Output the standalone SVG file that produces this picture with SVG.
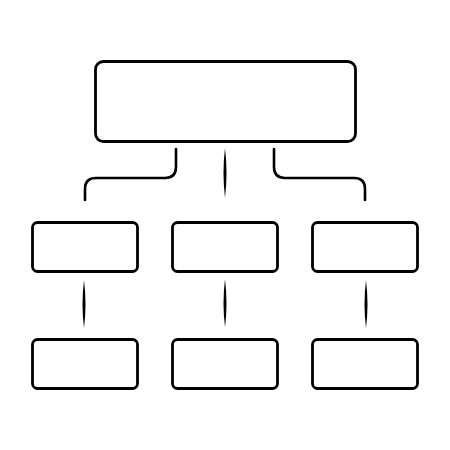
<svg xmlns="http://www.w3.org/2000/svg" width="450" height="450" viewBox="0 0 450 450">
<style>
.box{fill:#fff;stroke:#000;stroke-width:2.8}
.elbow{fill:none;stroke:#000;stroke-width:2.6;stroke-linecap:round}
.taper{fill:#000}
</style>
<rect width="450" height="450" fill="#fff"/>
<g id="connectors">
<path class="elbow" d="M176,149 V167 Q176,178 165,178 H96 Q85,178 85,189 V200"/>
<path class="taper" d="M225,148 Q228,172 225,198 Q222,172 225,148 Z"/>
<path class="elbow" d="M274,149 V167 Q274,178 285,178 H354 Q365,178 365,189 V200"/>
<path class="taper" d="M84,280 Q87,304 84,328 Q81,304 84,280 Z"/>
<path class="taper" d="M225,279 Q228,303 225,327 Q222,303 225,279 Z"/>
<path class="taper" d="M366,280 Q369,304 366,328 Q363,304 366,280 Z"/>
</g>
<g id="root"><rect class="box" x="95.5" y="61.5" width="260" height="80" rx="8"/></g>
<g id="mid1"><rect class="box" x="32.5" y="222.5" width="105" height="49" rx="5"/></g>
<g id="mid2"><rect class="box" x="172.5" y="222.5" width="105" height="49" rx="5"/></g>
<g id="mid3"><rect class="box" x="312.5" y="222.5" width="105" height="49" rx="5"/></g>
<g id="bot1"><rect class="box" x="32.5" y="339.5" width="105" height="49" rx="5"/></g>
<g id="bot2"><rect class="box" x="172.5" y="339.5" width="105" height="49" rx="5"/></g>
<g id="bot3"><rect class="box" x="312.5" y="339.5" width="105" height="49" rx="5"/></g>
</svg>
